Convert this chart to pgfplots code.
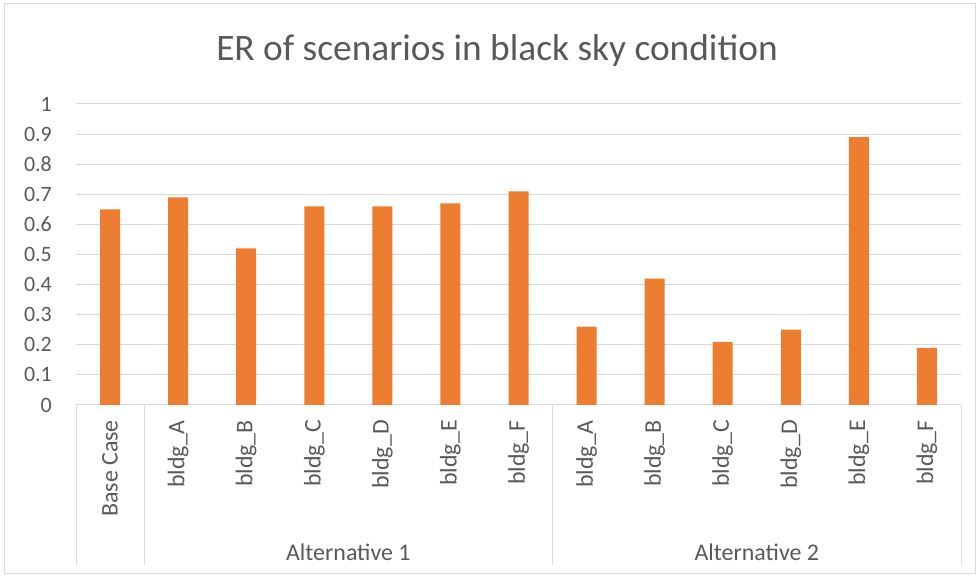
\documentclass[border=0pt]{standalone}
\usepackage{pgfplots}
\pgfplotsset{compat=1.18}
\usepackage{fontspec}
\setmainfont{Carlito}

\definecolor{barorange}{HTML}{ED7D31}
\definecolor{gridgray}{HTML}{D9D9D9}
\definecolor{txtgray}{HTML}{595959}

\begin{document}
\begin{tikzpicture}[x=1bp,y=1bp]
  % chart area
  \path (0,0) rectangle (979,578);
  \draw[gridgray, line width=1bp] (4,4) rectangle (975,574);
  % title
  \node[text=txtgray, font=\fontsize{37.5}{42}\selectfont] at (497,527)
    {ER of scenarios in black sky condition};

  \begin{axis}[
    at={(76bp,173bp)}, anchor=south west,
    scale only axis, width=885bp, height=301bp,
    xmin=-0.5, xmax=12.5, ymin=0, ymax=1,
    ybar, bar width=20bp,
    axis line style={draw=none},
    major tick length=0pt,
    ymajorgrids,
    grid style={gridgray, line width=1bp},
    ytick={0,0.1,0.2,0.3,0.4,0.5,0.6,0.7,0.8,0.9,1},
    yticklabel style={text=txtgray, font=\fontsize{22}{24}\selectfont,
      anchor=east, inner sep=0pt, xshift=-24bp,
      /pgf/number format/fixed, /pgf/number format/assume math mode=true},
    xtick={0,...,12},
    xticklabels={Base Case, bldg\_A, bldg\_B, bldg\_C, bldg\_D, bldg\_E, bldg\_F,
                 bldg\_A, bldg\_B, bldg\_C, bldg\_D, bldg\_E, bldg\_F},
    xticklabel style={text=txtgray, font=\fontsize{24}{26}\selectfont,
      inner xsep=0pt, inner ysep=0pt, rotate=90, anchor=east,
      xshift=0bp, yshift=0bp},
    xticklabel shift=15bp,
    clip=false,
  ]
    \addplot[fill=barorange, draw=none] coordinates {
      (0,0.65)
      (1,0.69) (2,0.52) (3,0.66) (4,0.66) (5,0.67) (6,0.71)
      (7,0.26) (8,0.42) (9,0.21) (10,0.25) (11,0.89) (12,0.19)
    };
    % group separators of the category axis
    \pgfplotsinvokeforeach{-0.5,0.5,6.5,12.5}{
      \draw[gridgray, line width=1bp] (axis cs:#1,0) -- ([yshift=-160bp]axis cs:#1,0);
    }
    \node[text=txtgray, font=\fontsize{24}{26}\selectfont]
      at ([yshift=-147bp]axis cs:3.5,0) {Alternative 1};
    \node[text=txtgray, font=\fontsize{24}{26}\selectfont]
      at ([yshift=-147bp]axis cs:9.5,0) {Alternative 2};
  \end{axis}
\end{tikzpicture}
\end{document}
